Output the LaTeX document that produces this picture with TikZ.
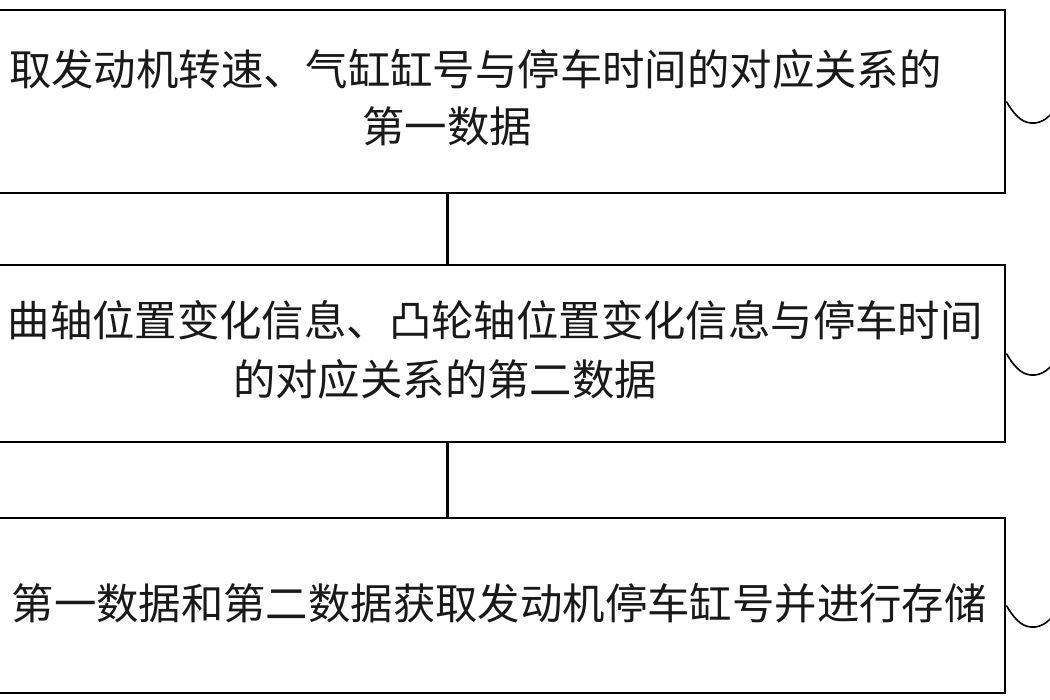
\documentclass[tikz,border=0pt]{standalone}
\usepackage{fontspec}
\newfontfamily\cjk{Noto Sans CJK SC}
\tikzset{
  stepbox/.style={draw=black, line width=2.8pt, minimum width=1116pt, inner sep=0pt, fill=white},
  txt/.style={font=\cjk\fontsize{42.4}{50}\selectfont, inner sep=0pt, text=black!90},
  link/.style={draw=black, line width=3pt},
  tail/.style={draw=black, line width=1.6pt}
}
\begin{document}
\begin{tikzpicture}[x=1pt,y=-1pt]
\useasboundingbox (0,0) rectangle (1050,700);
\clip (0,0) rectangle (1050,700);
\fill[white] (0,0) rectangle (1050,700);
% boxes
\node[stepbox, minimum height=183pt] (b1) at (447,101.5) {};
\node[stepbox, minimum height=177pt] (b2) at (447,353.5) {};
\node[stepbox, minimum height=175pt] (b3) at (447,605.5) {};
% texts
\node[txt, anchor=base east] (t1a) at (942,86) {取发动机转速、气缸缸号与停车时间的对应关系的};
\node[txt, anchor=base] (t1b) at (447,143) {第一数据};
\node[txt, anchor=base east] (t2a) at (983,337) {曲轴位置变化信息、凸轮轴位置变化信息与停车时间};
\node[txt, anchor=base] (t2b) at (445,396) {的对应关系的第二数据};
\node[txt, anchor=base east] (t3a) at (987,619) {第一数据和第二数据获取发动机停车缸号并进行存储};
% connectors
\draw[link] (b1.south) -- (b2.north);
\draw[link] (b2.south) -- (b3.north);
% reference tails
\coordinate (e1) at (1062,100);
\coordinate (e2) at (1062,352);
\coordinate (e3) at (1062,604);
\draw[tail] (b1.east) .. controls (1016,118) and (1024,124) .. (1035,123) .. controls (1046,122) and (1054,112) .. (e1);
\draw[tail] (b2.east) .. controls (1016,370) and (1024,376) .. (1035,375) .. controls (1046,374) and (1054,364) .. (e2);
\draw[tail] (b3.east) .. controls (1016,622) and (1024,628) .. (1035,627) .. controls (1046,626) and (1054,616) .. (e3);
\end{tikzpicture}
\end{document}
